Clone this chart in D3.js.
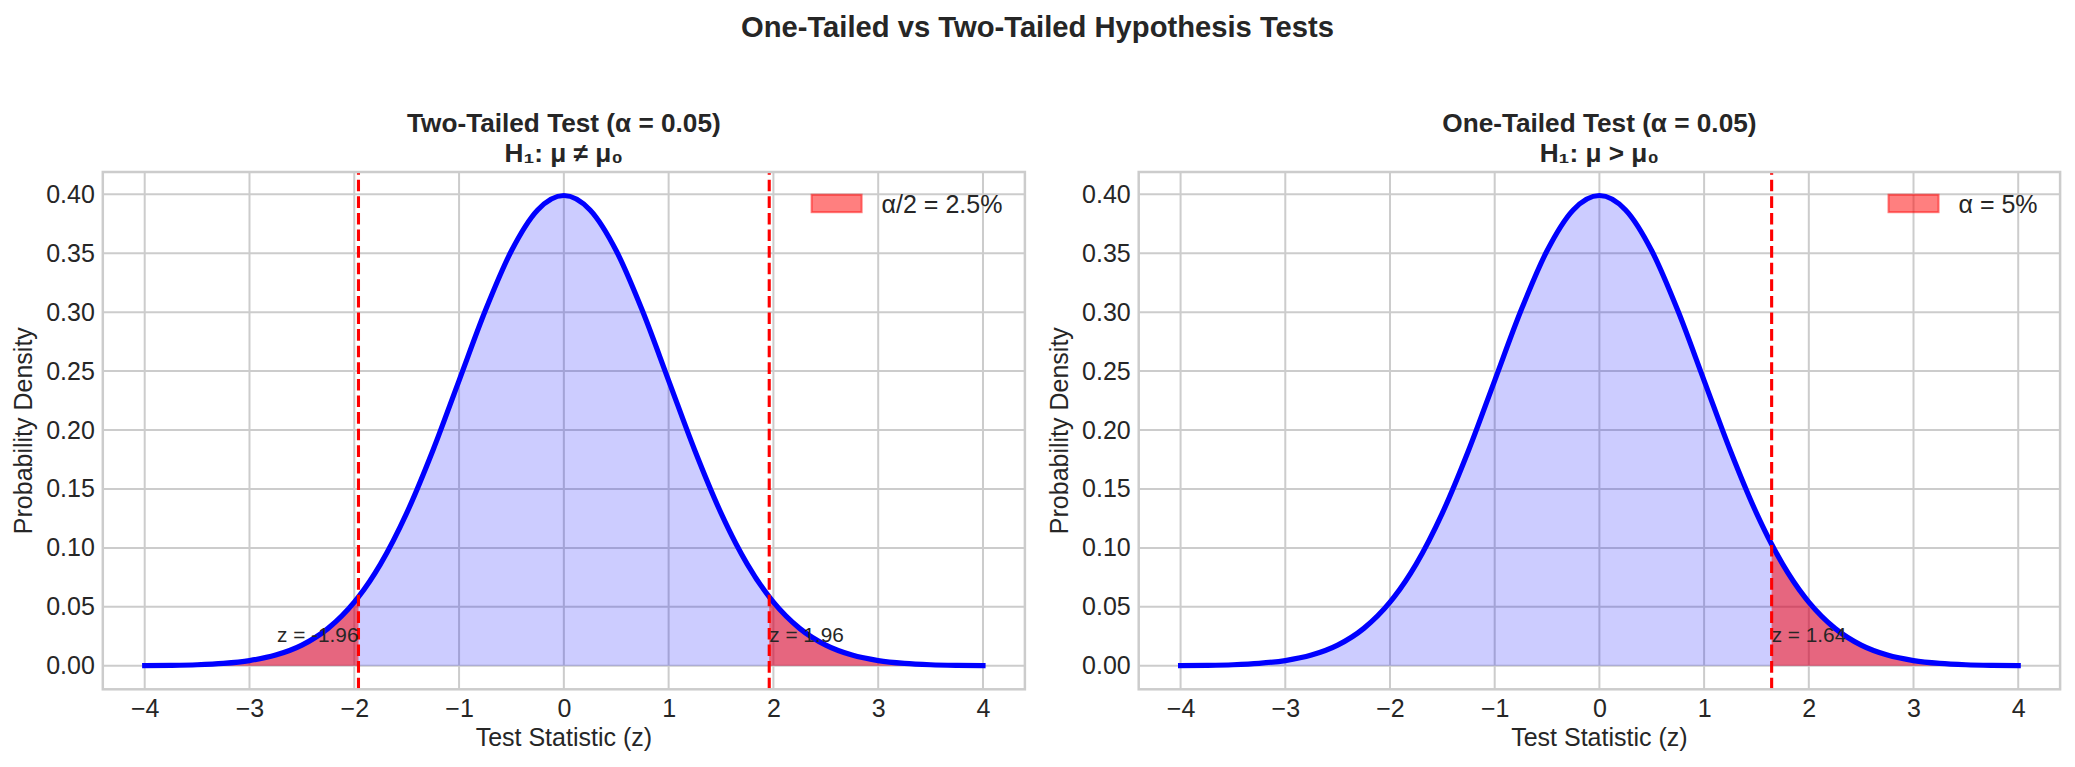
<!DOCTYPE html>
<html><head><meta charset="utf-8">
<script src="https://cdn.jsdelivr.net/npm/d3@7"></script>
<style>
body{margin:0;background:#fff}
svg{display:block}
text{font-family:"Liberation Sans",Arial,sans-serif;fill:#262626}
</style>
</head><body>
<svg id="c" width="2075" height="767"></svg>
<script>
// ---- data ----
const zValues = [-4,-3.75,-3.5,-3.25,-3,-2.75,-2.5,-2.25,-2,-1.96,-1.75,-1.5,-1.25,-1,-0.75,-0.5,-0.25,0,
                 0.25,0.5,0.75,1,1.25,1.5,1.645,1.75,1.96,2,2.25,2.5,2.75,3,3.25,3.5,3.75,4];
const densityValues = [0.00013,0.00035,0.00087,0.00203,0.00443,0.00909,0.01753,0.03174,0.05399,0.05844,0.08628,0.12952,0.18265,0.24197,0.30114,0.35207,0.38667,0.39894,
                       0.38667,0.35207,0.30114,0.24197,0.18265,0.12952,0.10314,0.08628,0.05844,0.05399,0.03174,0.01753,0.00909,0.00443,0.00203,0.00087,0.00035,0.00013];
const xTicks = [-4,-3,-2,-1,0,1,2,3,4];
const yTicks = [0,0.05,0.10,0.15,0.20,0.25,0.30,0.35,0.40];
const suptitle = "One-Tailed vs Two-Tailed Hypothesis Tests";
const panelTitles = ["Two-Tailed Test (α = 0.05)", "One-Tailed Test (α = 0.05)"];
const panelHypotheses = ["H₁: μ ≠ μ₀", "H₁: μ > μ₀"];
const criticalValues = [[-1.96, 1.96], [1.645]];
const criticalLabels = [["z = -1.96", "z = 1.96"], ["z = 1.64"]];
const tailRanges = [[[-4, -1.96], [1.96, 4]], [[1.645, 4]]];
const legendLabels = ["α/2 = 2.5%", "α = 5%"];
const labelHeight = 0.02;
const xLabel = "Test Statistic (z)";
const yLabel = "Probability Density";

// ---- layout ----
const svg = d3.select("#c");
const panels = [{l:102.8, r:1024.9}, {l:1138.7, r:2060.1}];
const axTop = 172, axBottom = 689.3;
const pts = zValues.map((z,i)=>({z:z, d:densityValues[i]}));
const fmtX = d => d < 0 ? "\u2212" + Math.abs(d) : String(d);

svg.append("text").attr("x",1037.5).attr("y",36.5).attr("text-anchor","middle")
  .attr("font-size",29.2).attr("font-weight","bold").text(suptitle);

panels.forEach((p,i)=>{
  const x = d3.scaleLinear().domain([-4.4,4.4]).range([p.l,p.r]);
  const y = d3.scaleLinear().domain([-0.019947,0.418889]).range([axBottom,axTop]);
  const g = svg.append("g");
  const cx = (p.l+p.r)/2;

  // grid
  g.selectAll(".gx").data(xTicks).join("line").attr("class","gx")
    .attr("x1",d=>x(d)).attr("x2",d=>x(d)).attr("y1",axTop).attr("y2",axBottom)
    .attr("stroke","#cccccc").attr("stroke-width",2);
  g.selectAll(".gy").data(yTicks).join("line").attr("class","gy")
    .attr("y1",d=>y(d)).attr("y2",d=>y(d)).attr("x1",p.l).attr("x2",p.r)
    .attr("stroke","#cccccc").attr("stroke-width",2);

  // fills
  const area = d3.area().x(d=>x(d.z)).y0(y(0)).y1(d=>y(d.d)).curve(d3.curveMonotoneX);
  g.append("path").datum(pts).attr("d",area).attr("fill","blue").attr("fill-opacity",0.2);
  tailRanges[i].forEach(([a,b])=>{
    g.append("path").datum(pts.filter(d=>d.z>=a && d.z<=b)).attr("d",area)
      .attr("fill","red").attr("fill-opacity",0.5);
  });

  // curve
  const line = d3.line().x(d=>x(d.z)).y(d=>y(d.d)).curve(d3.curveMonotoneX);
  g.append("path").datum(pts).attr("d",line).attr("fill","none")
    .attr("stroke","blue").attr("stroke-width",5.2).attr("stroke-linecap","square").attr("stroke-linejoin","round");

  // critical lines
  g.selectAll(".crit").data(criticalValues[i]).join("line").attr("class","crit")
    .attr("x1",d=>x(d)).attr("x2",d=>x(d)).attr("y1",axBottom).attr("y2",axTop)
    .attr("stroke","red").attr("stroke-width",3.1).attr("stroke-dasharray","11.6,5");

  // annotations
  g.selectAll(".ann").data(criticalValues[i]).join("text").attr("class","ann")
    .attr("x",d=>x(d)).attr("y",y(labelHeight))
    .attr("text-anchor",d=>d<0?"end":"start").attr("font-size",20.8)
    .text((d,j)=>criticalLabels[i][j]);

  // spines
  g.append("rect").attr("x",p.l).attr("y",axTop).attr("width",p.r-p.l).attr("height",axBottom-axTop)
    .attr("fill","none").attr("stroke","#cccccc").attr("stroke-width",2.5);

  // axes
  const xa = g.append("g").attr("transform",`translate(0,${axBottom})`)
    .call(d3.axisBottom(x).tickValues(xTicks).tickSize(0).tickPadding(10).tickFormat(fmtX));
  const ya = g.append("g").attr("transform",`translate(${p.l},0)`)
    .call(d3.axisLeft(y).tickValues(yTicks).tickSize(0).tickPadding(8).tickFormat(d3.format(".2f")));
  [xa,ya].forEach(a=>{
    a.select(".domain").remove();
    a.attr("font-size",25).attr("font-family",null).attr("color","#262626");
    a.selectAll("text").attr("fill","#262626");
  });

  // labels
  g.append("text").attr("x",cx).attr("y",746).attr("text-anchor","middle").attr("font-size",25).text(xLabel);
  g.append("text").attr("transform",`translate(${p.l-71},${(axTop+axBottom)/2}) rotate(-90)`)
    .attr("text-anchor","middle").attr("font-size",25).text(yLabel);

  // titles
  g.append("text").attr("x",cx).attr("y",131.7).attr("text-anchor","middle").attr("font-size",26.2)
    .attr("font-weight","bold").text(panelTitles[i]);
  g.append("text").attr("x",cx).attr("y",161.7).attr("text-anchor","middle").attr("font-size",26.2)
    .attr("font-weight","bold").text(panelHypotheses[i]);

  // legend
  const lt = g.append("text").attr("x",p.r-22.5).attr("y",212.7).attr("text-anchor","end")
    .attr("font-size",25).text(legendLabels[i]);
  const tw = lt.node().getComputedTextLength();
  g.append("rect").attr("x",p.r-22.5-tw-20-50).attr("y",194.7).attr("width",50).attr("height",17.5)
    .attr("fill","red").attr("fill-opacity",0.5).attr("stroke","red").attr("stroke-opacity",0.5).attr("stroke-width",2);
});
</script>
</body></html>
